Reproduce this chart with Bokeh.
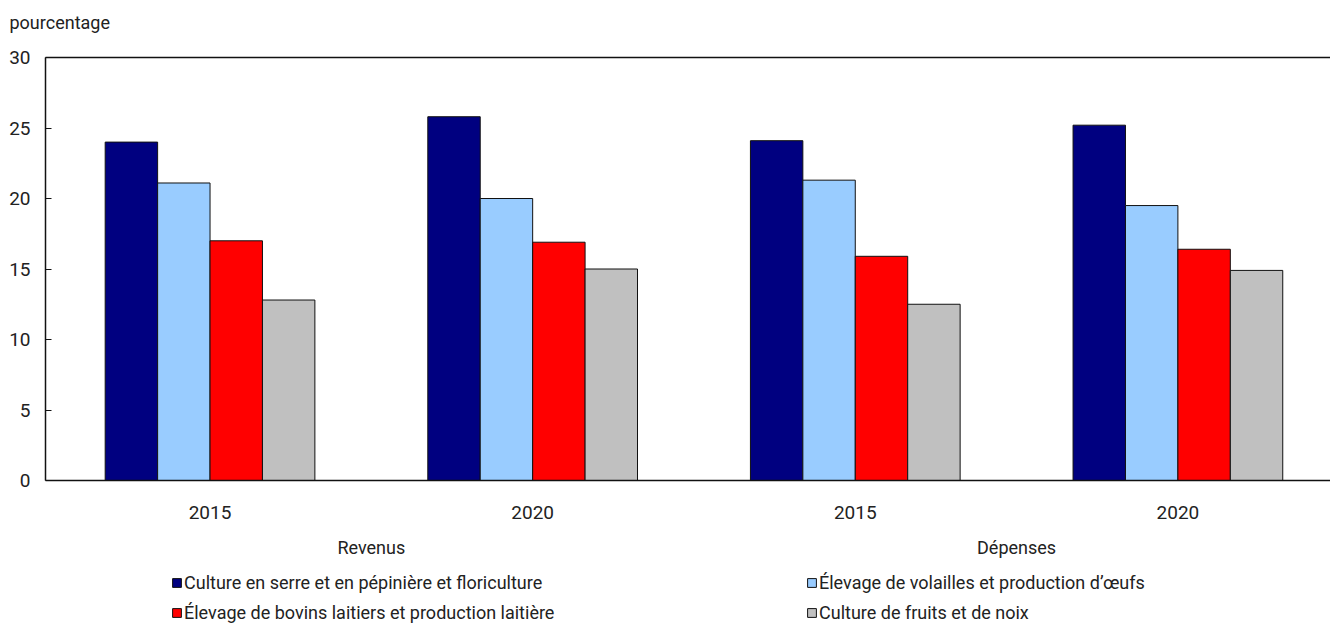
from bokeh.plotting import figure
from bokeh.models import (Range1d, LinearAxis, FixedTicker, Legend, LegendItem, ColumnDataSource, Label)
from bokeh.layouts import column
from bokeh.embed import file_html
from bokeh.resources import INLINE

# ---- data ----
unit_label = "pourcentage"
groups = ["Revenus", "Dépenses"]
years = ["2015", "2020", "2015", "2020"]
series_names = [
    "Culture en serre et en pépinière et floriculture",
    "Élevage de volailles et production d\u2019\u0153ufs",
    "Élevage de bovins laitiers et production laitière",
    "Culture de fruits et de noix",
]
serre = [24.0, 25.8, 24.1, 25.2]
volailles = [21.1, 20.0, 21.3, 19.5]
bovins = [17.0, 16.9, 15.9, 16.4]
fruits = [12.8, 15.0, 12.5, 14.9]
colors = ["#000080", "#99CCFF", "#FF0000", "#C0C0C0"]
y_ticks = [0, 5, 10, 15, 20, 25, 30]

FONT = "Roboto"
FS = "18px"
FS_NUM = "19px"
TXT = "#222222"
W = 1330

# ---- top strip with unit label ----
top = figure(width=W, height=40, output_backend="svg", toolbar_location=None,
             x_range=Range1d(0, W), y_range=Range1d(0, 40),
             x_axis_type=None, y_axis_type=None,
             min_border_left=0, min_border_top=0, min_border_bottom=0, min_border_right=0)
top.grid.visible = False
top.outline_line_color = None

# ---- main chart ----
p = figure(width=W, height=525, output_backend="svg", toolbar_location=None,
           x_range=Range1d(-0.51, 3.473), y_range=Range1d(0, 30),
           x_axis_type=None, y_axis_type=None,
           min_border_left=45, min_border_top=17, min_border_bottom=85, min_border_right=0)
p.grid.visible = False
p.outline_line_color = None

# ---- legend strip ----
q = figure(width=W, height=63, output_backend="svg", toolbar_location=None,
           x_range=Range1d(0, 1), y_range=Range1d(0, 1),
           x_axis_type=None, y_axis_type=None,
           min_border_left=0, min_border_top=0, min_border_bottom=0, min_border_right=0)
q.grid.visible = False
q.outline_line_color = None

try:
    top.frame_align = False
    q.frame_align = False
    shift = 0
except Exception:
    shift = 45

top.add_layout(Label(x=9 - shift, y=18, text=unit_label, text_font=FONT, text_font_size="18px",
                     text_color=TXT, text_baseline="middle", text_align="left"))

w = 0.1625
all_series = [serre, volailles, bovins, fruits]
renderers = []
for j, vals in enumerate(all_series):
    xs = [i + (j - 1.5) * w for i in range(len(vals))]
    src = ColumnDataSource(dict(x=xs, top=vals))
    r = p.vbar(x="x", top="top", bottom=0, width=w, source=src,
               fill_color=colors[j], line_color="#111111", line_width=1)
    renderers.append(r)

# y axis
yax = LinearAxis(ticker=FixedTicker(ticks=y_ticks))
yax.axis_line_color = "#111111"
yax.axis_line_width = 1.5
yax.major_tick_in = 6
yax.major_tick_out = 0
yax.minor_tick_line_color = None
yax.major_tick_line_color = "#111111"
yax.major_label_text_font = FONT
yax.major_label_text_font_size = FS_NUM
yax.major_label_text_color = TXT
yax.major_label_standoff = 15
p.add_layout(yax, "left")

# x axis (years)
xax = LinearAxis(ticker=FixedTicker(ticks=[0, 1, 2, 3]))
xax.major_label_overrides = {i: y for i, y in enumerate(years)}
xax.axis_line_color = "#111111"
xax.axis_line_width = 1.5
xax.major_tick_line_color = None
xax.minor_tick_line_color = None
xax.major_label_text_font = FONT
xax.major_label_text_font_size = FS_NUM
xax.major_label_text_color = TXT
xax.major_label_standoff = 19
p.add_layout(xax, "below")

# group axis
gax = LinearAxis(ticker=FixedTicker(ticks=[0.5, 2.5]))
gax.major_label_overrides = {0.5: groups[0], 2.5: groups[1]}
gax.axis_line_color = None
gax.major_tick_line_color = None
gax.minor_tick_line_color = None
gax.major_label_text_font = FONT
gax.major_label_text_font_size = FS
gax.major_label_text_color = TXT
gax.major_label_standoff = 9
p.add_layout(gax, "below")

# top border
tax = LinearAxis(ticker=FixedTicker(ticks=[]))
tax.axis_line_color = "#111111"
tax.axis_line_width = 1.5
tax.major_tick_line_color = None
tax.minor_tick_line_color = None
tax.major_label_text_font_size = "0px"
p.add_layout(tax, "above")

lr = []
for k in range(4):
    s = ColumnDataSource(dict(x=[5.0], top=[0.5]))
    lr.append(q.vbar(x="x", top="top", bottom=0, width=0.1, source=s,
                     fill_color=colors[k], line_color="#111111", line_width=1))

def make_legend(idx, loc):
    lg = Legend(items=[LegendItem(label=series_names[k], renderers=[lr[k]]) for k in idx],
                location=loc, orientation="vertical")
    lg.border_line_color = None
    lg.background_fill_alpha = 0
    lg.padding = 0
    lg.margin = 0
    lg.spacing = 9
    lg.glyph_width = 11
    lg.glyph_height = 11
    lg.label_height = 20
    lg.label_standoff = 2
    lg.label_text_font = FONT
    lg.label_text_font_size = FS
    lg.label_text_color = TXT
    lg.label_text_baseline = "middle"
    return lg

q.add_layout(make_legend([0, 2], (171 - shift, 5)), "center")
q.add_layout(make_legend([1, 3], (806 - shift, 5)), "center")

layout = column(top, p, q, spacing=0)
open("out.html", "w").write(file_html(layout, INLINE))
